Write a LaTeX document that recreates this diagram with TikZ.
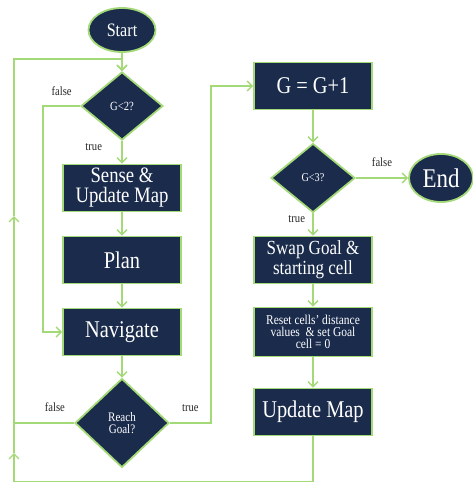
\documentclass[tikz,border=0pt]{standalone}
\usepackage{fontspec}
\setmainfont[FakeStretch=0.85]{Liberation Serif}
\usetikzlibrary{arrows.meta, positioning, shapes.geometric}
\definecolor{navyfill}{HTML}{1A2B4C}
\definecolor{limeline}{HTML}{A3D977}

\begin{document}
\begin{tikzpicture}[
        x=1pt, y=1pt,
        node distance=72pt,
        terminal/.style={ellipse, draw=limeline, line width=1.8pt, fill=navyfill, text=white, inner sep=0pt},
        process/.style={rectangle, draw=limeline, line width=1.8pt, fill=navyfill, text=white,
                        minimum width=118pt, minimum height=47pt, align=center, inner sep=2pt},
        decision/.style={diamond, draw=limeline, line width=1.8pt, fill=navyfill, text=white,
                        minimum width=82pt, minimum height=68pt, align=center, inner sep=0pt},
        arrow/.style={draw=limeline, line width=1.4pt, -{Straight Barb[length=5pt, width=10pt]}},
        link/.style={draw=limeline, line width=1.4pt},
        lbl/.style={font=\fontsize{12.5}{13}\selectfont, text=black!85}
    ]
        \useasboundingbox (0,0) rectangle (472,-484);

        \node[terminal, minimum width=67pt, minimum height=44pt, font=\fontsize{19}{20}\selectfont] (start) at (122,-30) {Start};
        \node[decision, below of=start, yshift=-4pt, font=\fontsize{12.5}{13}\selectfont] (g2) {G<2?};
        \node[process, below of=g2, yshift=-10pt, font=\fontsize{22}{20}\selectfont] (sense) {Sense \&\\Update Map};
        \node[process, below of=sense, font=\fontsize{24}{24}\selectfont] (plan) {Plan};
        \node[process, below of=plan, font=\fontsize{24}{24}\selectfont] (nav) {Navigate};
        \node[decision, below of=nav, yshift=-19pt, minimum width=94pt, minimum height=89pt,
              font=\fontsize{13}{12}\selectfont] (reach) {Reach\\Goal?};

        \node[process, right of=g2, xshift=119pt, yshift=20pt, font=\fontsize{24}{24}\selectfont] (ginc) {G = G+1};
        \node[decision, below of=ginc, yshift=-20pt, minimum width=84pt, minimum height=69pt,
              font=\fontsize{12}{13}\selectfont] (g3) {G<3?};
        \node[terminal, right of=g3, xshift=56pt, minimum width=64pt, minimum height=48pt,
              font=\fontsize{27}{27}\selectfont] (end) {End};
        \node[process, below of=g3, yshift=-10pt, font=\fontsize{20}{20}\selectfont] (swap) {Swap Goal \&\\starting cell};
        \node[process, below of=swap, minimum height=49pt, font=\fontsize{13.5}{12}\selectfont] (reset) {Reset cells' distance\\values\ \ \& set Goal\\cell = 0};
        \node[process, below of=reset, yshift=-8pt, font=\fontsize{24}{24}\selectfont] (update) {Update Map};

        \coordinate (railA) at (14,-453);
        \coordinate (railB) at (14,-216);

        \draw[arrow] (start) -- (g2);
        \draw[arrow] (g2) -- node[lbl, left=16pt, pos=0.28] {true} (sense);
        \draw[arrow] (g2.west) -- node[lbl, above=6.5pt] {false} ++(-37,0) |- (nav.west);
        \draw[arrow] (sense) -- (plan);
        \draw[arrow] (plan) -- (nav);
        \draw[arrow] (nav) -- (reach);

        \draw[link] (reach.west) -- node[lbl, above=7.5pt, pos=0.32] {false} (reach.west -| railA);
        \draw[arrow] (reach.east) -- node[lbl, above=7.5pt] {true} ++(41,0) |- (ginc.west);

        \draw[arrow] (ginc) -- (g3);
        \draw[arrow] (g3) -- node[lbl, above=7pt] {false} (end);
        \draw[arrow] (g3) -- node[lbl, left=4pt, pos=0.24] {true} (swap);
        \draw[arrow] (swap) -- (reset);
        \draw[arrow] (reset) -- (update);

        % loop back to the first test
        \draw[arrow] (update.south) -- ++(0,-45) -| (railA);
        \draw[arrow] (railA) -- (railB);
        \draw[arrow] (railB) |- ([yshift=12pt]g2.north) -- (g2.north);
    \end{tikzpicture}
\end{document}
